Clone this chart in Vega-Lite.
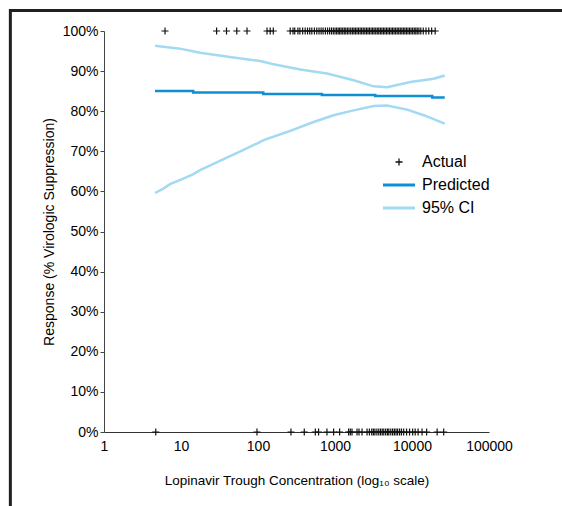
{
  "$schema": "https://vega.github.io/schema/vega-lite/v6.json",
  "width": 385,
  "height": 401,
  "autosize": {"type": "none"},
  "padding": {"left": 104, "top": 31, "right": 73, "bottom": 74},
  "background": "white",
  "config": {"view": {"stroke": null}, "font": "Liberation Sans"},
  "datasets": {
    "actual": [
      {"conc": 6.2, "resp": 1, "series": "Actual"}, {"conc": 29, "resp": 1, "series": "Actual"}, {"conc": 39, "resp": 1, "series": "Actual"},
      {"conc": 53, "resp": 1, "series": "Actual"}, {"conc": 72, "resp": 1, "series": "Actual"}, {"conc": 131, "resp": 1, "series": "Actual"},
      {"conc": 144, "resp": 1, "series": "Actual"}, {"conc": 158, "resp": 1, "series": "Actual"}, {"conc": 262, "resp": 1, "series": "Actual"},
      {"conc": 285, "resp": 1, "series": "Actual"}, {"conc": 300, "resp": 1, "series": "Actual"}, {"conc": 330, "resp": 1, "series": "Actual"},
      {"conc": 350, "resp": 1, "series": "Actual"}, {"conc": 380, "resp": 1, "series": "Actual"}, {"conc": 410, "resp": 1, "series": "Actual"},
      {"conc": 440, "resp": 1, "series": "Actual"}, {"conc": 470, "resp": 1, "series": "Actual"}, {"conc": 500, "resp": 1, "series": "Actual"},
      {"conc": 540, "resp": 1, "series": "Actual"}, {"conc": 580, "resp": 1, "series": "Actual"}, {"conc": 620, "resp": 1, "series": "Actual"},
      {"conc": 660, "resp": 1, "series": "Actual"}, {"conc": 700, "resp": 1, "series": "Actual"}, {"conc": 750, "resp": 1, "series": "Actual"},
      {"conc": 800, "resp": 1, "series": "Actual"}, {"conc": 850, "resp": 1, "series": "Actual"}, {"conc": 900, "resp": 1, "series": "Actual"},
      {"conc": 950, "resp": 1, "series": "Actual"}, {"conc": 1000, "resp": 1, "series": "Actual"}, {"conc": 1050, "resp": 1, "series": "Actual"},
      {"conc": 1100, "resp": 1, "series": "Actual"}, {"conc": 1150, "resp": 1, "series": "Actual"}, {"conc": 1200, "resp": 1, "series": "Actual"},
      {"conc": 1260, "resp": 1, "series": "Actual"}, {"conc": 1320, "resp": 1, "series": "Actual"}, {"conc": 1380, "resp": 1, "series": "Actual"},
      {"conc": 1450, "resp": 1, "series": "Actual"}, {"conc": 1520, "resp": 1, "series": "Actual"}, {"conc": 1600, "resp": 1, "series": "Actual"},
      {"conc": 1680, "resp": 1, "series": "Actual"}, {"conc": 1760, "resp": 1, "series": "Actual"}, {"conc": 1840, "resp": 1, "series": "Actual"},
      {"conc": 1930, "resp": 1, "series": "Actual"}, {"conc": 2020, "resp": 1, "series": "Actual"}, {"conc": 2120, "resp": 1, "series": "Actual"},
      {"conc": 2220, "resp": 1, "series": "Actual"}, {"conc": 2330, "resp": 1, "series": "Actual"}, {"conc": 2440, "resp": 1, "series": "Actual"},
      {"conc": 2560, "resp": 1, "series": "Actual"}, {"conc": 2680, "resp": 1, "series": "Actual"}, {"conc": 2800, "resp": 1, "series": "Actual"},
      {"conc": 2940, "resp": 1, "series": "Actual"}, {"conc": 3080, "resp": 1, "series": "Actual"}, {"conc": 3220, "resp": 1, "series": "Actual"},
      {"conc": 3380, "resp": 1, "series": "Actual"}, {"conc": 3540, "resp": 1, "series": "Actual"}, {"conc": 3700, "resp": 1, "series": "Actual"},
      {"conc": 3880, "resp": 1, "series": "Actual"}, {"conc": 4060, "resp": 1, "series": "Actual"}, {"conc": 4250, "resp": 1, "series": "Actual"},
      {"conc": 4450, "resp": 1, "series": "Actual"}, {"conc": 4660, "resp": 1, "series": "Actual"}, {"conc": 4880, "resp": 1, "series": "Actual"},
      {"conc": 5100, "resp": 1, "series": "Actual"}, {"conc": 5350, "resp": 1, "series": "Actual"}, {"conc": 5600, "resp": 1, "series": "Actual"},
      {"conc": 5850, "resp": 1, "series": "Actual"}, {"conc": 6130, "resp": 1, "series": "Actual"}, {"conc": 6420, "resp": 1, "series": "Actual"},
      {"conc": 6720, "resp": 1, "series": "Actual"}, {"conc": 7040, "resp": 1, "series": "Actual"}, {"conc": 7370, "resp": 1, "series": "Actual"},
      {"conc": 7720, "resp": 1, "series": "Actual"}, {"conc": 8080, "resp": 1, "series": "Actual"}, {"conc": 8460, "resp": 1, "series": "Actual"},
      {"conc": 8860, "resp": 1, "series": "Actual"}, {"conc": 9280, "resp": 1, "series": "Actual"}, {"conc": 9720, "resp": 1, "series": "Actual"},
      {"conc": 10200, "resp": 1, "series": "Actual"}, {"conc": 10700, "resp": 1, "series": "Actual"}, {"conc": 11200, "resp": 1, "series": "Actual"},
      {"conc": 11700, "resp": 1, "series": "Actual"}, {"conc": 12300, "resp": 1, "series": "Actual"}, {"conc": 13000, "resp": 1, "series": "Actual"},
      {"conc": 14000, "resp": 1, "series": "Actual"}, {"conc": 15200, "resp": 1, "series": "Actual"}, {"conc": 16500, "resp": 1, "series": "Actual"},
      {"conc": 18000, "resp": 1, "series": "Actual"}, {"conc": 20000, "resp": 1, "series": "Actual"},
      {"conc": 4.7, "resp": 0, "series": "Actual"}, {"conc": 97, "resp": 0, "series": "Actual"}, {"conc": 268, "resp": 0, "series": "Actual"},
      {"conc": 399, "resp": 0, "series": "Actual"}, {"conc": 555, "resp": 0, "series": "Actual"}, {"conc": 612, "resp": 0, "series": "Actual"},
      {"conc": 786, "resp": 0, "series": "Actual"}, {"conc": 960, "resp": 0, "series": "Actual"}, {"conc": 1148, "resp": 0, "series": "Actual"},
      {"conc": 1503, "resp": 0, "series": "Actual"}, {"conc": 1580, "resp": 0, "series": "Actual"}, {"conc": 1663, "resp": 0, "series": "Actual"},
      {"conc": 1932, "resp": 0, "series": "Actual"}, {"conc": 2050, "resp": 0, "series": "Actual"}, {"conc": 2244, "resp": 0, "series": "Actual"},
      {"conc": 2607, "resp": 0, "series": "Actual"}, {"conc": 2800, "resp": 0, "series": "Actual"}, {"conc": 3000, "resp": 0, "series": "Actual"},
      {"conc": 3150, "resp": 0, "series": "Actual"}, {"conc": 3300, "resp": 0, "series": "Actual"}, {"conc": 3500, "resp": 0, "series": "Actual"},
      {"conc": 3700, "resp": 0, "series": "Actual"}, {"conc": 3900, "resp": 0, "series": "Actual"}, {"conc": 4100, "resp": 0, "series": "Actual"},
      {"conc": 4300, "resp": 0, "series": "Actual"}, {"conc": 4550, "resp": 0, "series": "Actual"}, {"conc": 4800, "resp": 0, "series": "Actual"},
      {"conc": 5000, "resp": 0, "series": "Actual"}, {"conc": 5300, "resp": 0, "series": "Actual"}, {"conc": 5600, "resp": 0, "series": "Actual"},
      {"conc": 5900, "resp": 0, "series": "Actual"}, {"conc": 6200, "resp": 0, "series": "Actual"}, {"conc": 6500, "resp": 0, "series": "Actual"},
      {"conc": 6900, "resp": 0, "series": "Actual"}, {"conc": 7300, "resp": 0, "series": "Actual"}, {"conc": 7800, "resp": 0, "series": "Actual"},
      {"conc": 8500, "resp": 0, "series": "Actual"}, {"conc": 9300, "resp": 0, "series": "Actual"}, {"conc": 10200, "resp": 0, "series": "Actual"},
      {"conc": 11000, "resp": 0, "series": "Actual"}, {"conc": 12000, "resp": 0, "series": "Actual"}, {"conc": 13500, "resp": 0, "series": "Actual"},
      {"conc": 15500, "resp": 0, "series": "Actual"}, {"conc": 21200, "resp": 0, "series": "Actual"}, {"conc": 25800, "resp": 0, "series": "Actual"}
    ],
    "predicted": [
      {"conc": 4.6, "resp": 0.8505, "series": "Predicted"}, {"conc": 14.4, "resp": 0.8465, "series": "Predicted"},
      {"conc": 117, "resp": 0.843, "series": "Predicted"}, {"conc": 676, "resp": 0.8405, "series": "Predicted"},
      {"conc": 3330, "resp": 0.838, "series": "Predicted"}, {"conc": 18300, "resp": 0.834, "series": "Predicted"},
      {"conc": 26600, "resp": 0.834, "series": "Predicted"}
    ],
    "ci": [
      {"conc": 4.6, "resp": 0.963, "series": "95% CI", "bound": "upper"}, {"conc": 9.7, "resp": 0.956, "series": "95% CI", "bound": "upper"},
      {"conc": 17.7, "resp": 0.946, "series": "95% CI", "bound": "upper"}, {"conc": 48, "resp": 0.934, "series": "95% CI", "bound": "upper"},
      {"conc": 107, "resp": 0.925, "series": "95% CI", "bound": "upper"}, {"conc": 159, "resp": 0.917, "series": "95% CI", "bound": "upper"},
      {"conc": 354, "resp": 0.904, "series": "95% CI", "bound": "upper"}, {"conc": 787, "resp": 0.894, "series": "95% CI", "bound": "upper"},
      {"conc": 1746, "resp": 0.877, "series": "95% CI", "bound": "upper"}, {"conc": 3177, "resp": 0.862, "series": "95% CI", "bound": "upper"},
      {"conc": 4745, "resp": 0.86, "series": "95% CI", "bound": "upper"}, {"conc": 9530, "resp": 0.873, "series": "95% CI", "bound": "upper"},
      {"conc": 19100, "resp": 0.881, "series": "95% CI", "bound": "upper"}, {"conc": 26600, "resp": 0.889, "series": "95% CI", "bound": "upper"},
      {"conc": 4.6, "resp": 0.596, "series": "95% CI", "bound": "lower"}, {"conc": 5.9, "resp": 0.607, "series": "95% CI", "bound": "lower"},
      {"conc": 7.2, "resp": 0.618, "series": "95% CI", "bound": "lower"}, {"conc": 10.7, "resp": 0.632, "series": "95% CI", "bound": "lower"},
      {"conc": 14.5, "resp": 0.643, "series": "95% CI", "bound": "lower"}, {"conc": 17.7, "resp": 0.653, "series": "95% CI", "bound": "lower"},
      {"conc": 32, "resp": 0.676, "series": "95% CI", "bound": "lower"}, {"conc": 59, "resp": 0.7, "series": "95% CI", "bound": "lower"},
      {"conc": 98, "resp": 0.72, "series": "95% CI", "bound": "lower"}, {"conc": 118, "resp": 0.728, "series": "95% CI", "bound": "lower"},
      {"conc": 238, "resp": 0.748, "series": "95% CI", "bound": "lower"}, {"conc": 527, "resp": 0.773, "series": "95% CI", "bound": "lower"},
      {"conc": 959, "resp": 0.79, "series": "95% CI", "bound": "lower"}, {"conc": 1746, "resp": 0.802, "series": "95% CI", "bound": "lower"},
      {"conc": 3177, "resp": 0.813, "series": "95% CI", "bound": "lower"}, {"conc": 4745, "resp": 0.814, "series": "95% CI", "bound": "lower"},
      {"conc": 8630, "resp": 0.804, "series": "95% CI", "bound": "lower"}, {"conc": 14200, "resp": 0.79, "series": "95% CI", "bound": "lower"},
      {"conc": 26600, "resp": 0.769, "series": "95% CI", "bound": "lower"}
    ]
  },
  "layer": [
    {
      "data": {"values": [{}]},
      "mark": {"type": "rule", "color": "#231f20", "strokeWidth": 3, "clip": false},
      "encoding": {
        "x": {"datum": 0.0595, "type": "quantitative", "scale": {"type": "log", "domain": [1, 100000], "nice": false}},
        "x2": {"datum": 10000000},
        "y": {"datum": 1.051, "type": "quantitative", "scale": {"domain": [0, 1], "nice": false}}
      }
    },
    {
      "data": {"values": [{}]},
      "mark": {"type": "rule", "color": "#231f20", "strokeWidth": 3, "clip": false},
      "encoding": {
        "x": {"datum": 0.0608, "type": "quantitative"},
        "y": {"datum": 1.055, "type": "quantitative"},
        "y2": {"datum": -0.4}
      }
    },
    {
      "data": {"name": "ci"},
      "mark": {"type": "line", "strokeWidth": 2.5},
      "encoding": {
        "x": {"field": "conc", "type": "quantitative",
          "scale": {"type": "log", "domain": [1, 100000], "nice": false},
          "axis": {"values": [1, 10, 100, 1000, 10000, 100000], "format": "d", "ticks": false, "grid": false,
            "title": "Lopinavir Trough Concentration (log₁₀ scale)", "labelFontSize": 14, "titleFontSize": 13.5,
            "titleFontWeight": "normal", "labelColor": "#000", "titleColor": "#000", "domainColor": "#333",
            "labelPadding": 7, "titlePadding": 20, "labelFlush": false}},
        "y": {"field": "resp", "type": "quantitative",
          "scale": {"domain": [0, 1], "nice": false},
          "axis": {"values": [0, 0.1, 0.2, 0.3, 0.4, 0.5, 0.6, 0.7, 0.8, 0.9, 1], "format": ".0%", "grid": false,
            "title": "Response (% Virologic Suppression)", "tickSize": 4, "labelFontSize": 14, "titleFontSize": 14,
            "titleFontWeight": "normal", "labelColor": "#000", "titleColor": "#000", "domainColor": "#444", "tickColor": "#444",
            "labelPadding": 2, "titlePadding": 6}},
        "detail": {"field": "bound"},
        "color": {"field": "series", "type": "nominal",
          "scale": {"domain": ["Actual", "Predicted", "95% CI"], "range": ["#111111", "#0f8fd2", "#a3d9f3"]},
          "legend": {"orient": "none", "legendX": 287, "legendY": 123, "title": null, "padding": 0,
            "labelFont": "Liberation Sans", "labelFontSize": 16, "labelColor": "#000", "symbolSize": 64,
            "labelOffset": 15, "rowPadding": 7, "symbolStrokeWidth": 3, "symbolOpacity": 1,
            "encode": {"symbols": {"update": {
              "shape": {"signal": "datum.value === 'Actual' ? 'M-0.875,0H0.875M0,-0.875V0.875' : 'M-4,0H4'"},
              "strokeWidth": {"signal": "datum.value === 'Actual' ? 1.3 : 3"}}}}}}
      }
    },
    {
      "data": {"name": "predicted"},
      "mark": {"type": "line", "strokeWidth": 2.5, "interpolate": "step-after"},
      "encoding": {
        "x": {"field": "conc", "type": "quantitative"},
        "y": {"field": "resp", "type": "quantitative"},
        "color": {"field": "series", "type": "nominal"}
      }
    },
    {
      "data": {"name": "actual"},
      "mark": {"type": "point", "shape": "M-1,0H1M0,-1V1", "size": 49, "filled": false, "strokeWidth": 1.2, "opacity": 1, "clip": false},
      "encoding": {
        "x": {"field": "conc", "type": "quantitative"},
        "y": {"field": "resp", "type": "quantitative"},
        "color": {"field": "series", "type": "nominal"}
      }
    }
  ]
}
